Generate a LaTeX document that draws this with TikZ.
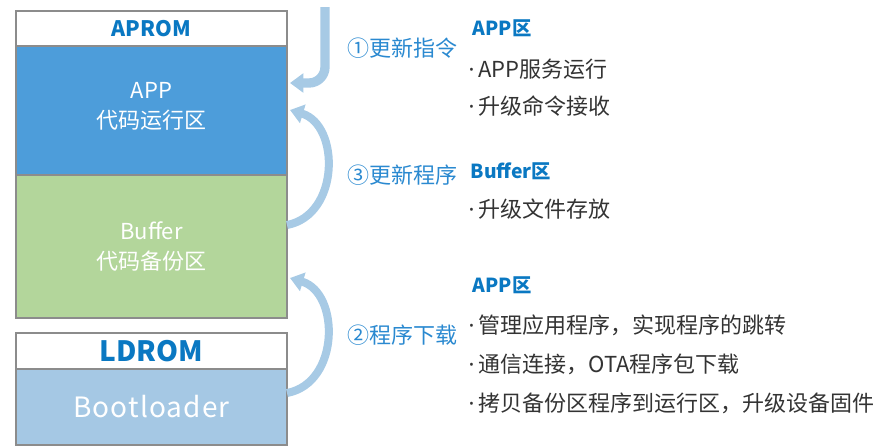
\documentclass[tikz,border=0pt]{standalone}
\usepackage{fontspec}
\setmainfont{Noto Sans CJK SC}
\newfontfamily\dotfont{Noto Sans}
\usetikzlibrary{positioning,arrows.meta}
\definecolor{appblue}{HTML}{4D9DDA}
\definecolor{bufgreen}{HTML}{B3D69B}
\definecolor{bootblue}{HTML}{A5C8E4}
\definecolor{hdrblue}{HTML}{0A78C2}
\definecolor{lblblue}{HTML}{2A89D0}
\definecolor{flowblue}{HTML}{A7CAE5}
\definecolor{txtgray}{HTML}{333333}
\newcommand{\itemdot}{{\dotfont ·}\hspace{3pt}}

\begin{document}
\begin{tikzpicture}[x=0.75pt, y=-0.75pt,
                mem/.style = {draw=gray!90, line width=1.1pt, minimum width=203.25pt,
                              inner sep=0pt, outer sep=0pt, text=white, align=center,
                              font=\fontsize{16.5}{22.5}\selectfont},
                hdr/.style = {mem, fill=white, text=hdrblue},
                flow/.style = {draw=flowblue, line width=6pt,
                               -{Triangle[width=14pt, length=10pt]}},
                steplbl/.style = {anchor=west, text=lblblue, font=\fontsize{16.5}{18}\selectfont},
                ttl/.style = {anchor=west, text=hdrblue, font=\bfseries\fontsize{14.5}{16}\selectfont},
                itm/.style = {anchor=west, text=txtgray, font=\fontsize{16.5}{18}\selectfont}
                ]
                \useasboundingbox (0,0) rectangle (887,446);
                % memory blocks
                \node[hdr, minimum height=26.25pt, font=\bfseries\fontsize{16}{18}\selectfont]
                    (aprom) at (151.5,28.5) {APROM};
                \node[mem, fill=appblue, minimum height=96.75pt, below=0pt of aprom]
                    (app) {APP\\代码运行区\\[-15pt]};
                \node[mem, fill=bufgreen, minimum height=107.25pt, below=0pt of app]
                    (buffer) {Buffer\\代码备份区};
                \node[hdr, minimum height=27pt, below=11.25pt of buffer,
                      font=\bfseries\fontsize{21}{22}\selectfont] (ldrom) {LDROM};
                \node[mem, fill=bootblue, minimum height=57pt, below=0pt of ldrom,
                      font=\fontsize{21}{22}\selectfont\addfontfeatures{LetterSpace=4}] (boot) {Bootloader};

                % update flow
                \coordinate (cmdin) at (325,7);
                \draw[flow, line width=7pt, rounded corners=12pt] (cmdin) |- ([shift={(3,37)}]app.north east);
                \draw[flow] ([shift={(0,50)}]buffer.north east)
                    .. controls +(53,-10) and +(50,15) .. ([shift={(3,64)}]app.north east);
                \draw[flow] ([shift={(0,24)}]boot.north east)
                    .. controls +(53,-10) and +(50,15) .. ([shift={(3,103)}]buffer.north east);

                \node[steplbl] (s1) at (343,48) {①更新指令};
                \node[steplbl] (s3) at (343,175) {③更新程序};
                \node[steplbl] (s2) at (343,335) {②程序下载};

                % notes
                \node[ttl] (t1) at (468,28) {APP区};
                \node[itm] (t1a) at (464,69) {\itemdot APP服务运行};
                \node[itm] (t1b) at (464,106) {\itemdot 升级命令接收};
                \node[ttl] (t2) at (466,171) {Buffer区};
                \node[itm] (t2a) at (464,209) {\itemdot 升级文件存放};
                \node[ttl] (t3) at (468,285) {APP区};
                \node[itm] (t3a) at (464,325) {\itemdot 管理应用程序，实现程序的跳转};
                \node[itm] (t3b) at (464,364) {\itemdot 通信连接，OTA程序包下载};
                \node[itm] (t3c) at (464,403) {\itemdot 拷贝备份区程序到运行区，升级设备固件};
            \end{tikzpicture}
\end{document}
